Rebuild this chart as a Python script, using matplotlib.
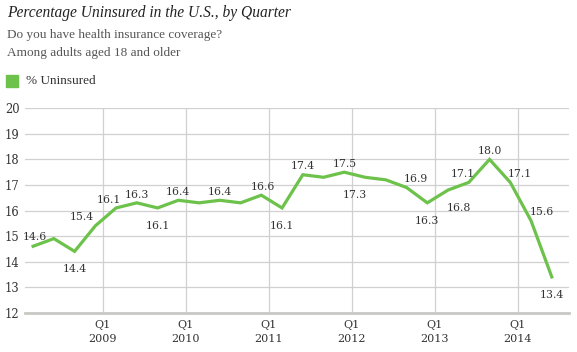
import matplotlib.pyplot as plt
import numpy as np

plt.rcParams['font.family'] = ['DejaVu Serif']

# quarterly % uninsured, first point 2008 Q1 through 2014 Q2
uninsured = [14.6, 14.9, 14.4, 15.4, 16.1, 16.3, 16.1, 16.4, 16.3, 16.4,
             16.3, 16.6, 16.1, 17.4, 17.3, 17.5, 17.3, 17.2, 16.9, 16.3,
             16.8, 17.1, 18.0, 17.1, 15.6, 13.4]
years = ['2009', '2010', '2011', '2012', '2013', '2014']
# which points carry a label and where (offset in points)
label_idx = [0, 2, 3, 4, 5, 6, 7, 9, 11, 12, 13, 15, 16, 18, 19, 20, 21, 22, 23, 24, 25]
label_off = [(1, 7), (0, -13), (-10, 6), (-5, 6), (0, 6), (0, -13), (0, 6), (0, 6),
             (1, 6), (0, -13), (0, 6), (0, 6), (-7, -13), (7, 6), (0, -13),
             (8, -13), (-4, 6), (0, 6), (7, 6), (8, 6), (0, -13)]

green = '#6cc24a'
txt = '#333333'
serif2 = 'Liberation Serif'

fig = plt.figure(figsize=(5.77, 3.52), dpi=100)
ax = fig.add_axes([25/577, 1-312.7/352, 544/577, (312.7-108.3)/352])

x = np.arange(len(uninsured))
ax.plot(x, uninsured, color=green, lw=2.3, solid_joinstyle='miter', zorder=3)

for i, (dx, dy) in zip(label_idx, label_off):
    ax.annotate(f'{uninsured[i]:.1f}', (x[i], uninsured[i]), xytext=(dx, dy),
                textcoords='offset points', ha='center', va='center',
                fontsize=7.8, color=txt, zorder=4)

q1_pos = [3.35 + 4*j for j in range(len(years))]
ax.set_xlim(-0.39, 25.83)
ax.set_ylim(12, 20)
ax.set_yticks(range(12, 21))
ax.set_xticks(q1_pos)
ax.set_xticklabels([f'Q1\n{y}' for y in years], fontsize=8, color=txt, linespacing=1.6)
ax.tick_params(axis='y', length=0, labelsize=8.3, labelcolor=txt, pad=4)
ax.tick_params(axis='x', length=0, pad=5)
ax.grid(True, color='#d0d0d0', lw=0.9)
ax.set_axisbelow(True)
for s in ['top', 'right', 'left']:
    ax.spines[s].set_visible(False)
ax.spines['bottom'].set_color('#c8c8c4')
ax.spines['bottom'].set_linewidth(2)

fig.text(7/577, 1-13/352, 'Percentage Uninsured in the U.S., by Quarter', fontsize=11.2,
         family=serif2, style='italic', color='#222222', va='center')
fig.text(7/577, 1-35/352, 'Do you have health insurance coverage?', fontsize=9.5,
         family=serif2, color='#555555', va='center')
fig.text(7/577, 1-53/352, 'Among adults aged 18 and older', fontsize=9.5,
         family=serif2, color='#555555', va='center')
fig.patches.append(plt.Rectangle((6/577, 1-87/352), 12/577, 12/352, color=green,
                                 transform=fig.transFigure))
fig.text(26/577, 1-81/352, '% Uninsured', fontsize=9.5, family=serif2, color=txt,
         va='center')

fig.savefig('out.png', dpi=100)
